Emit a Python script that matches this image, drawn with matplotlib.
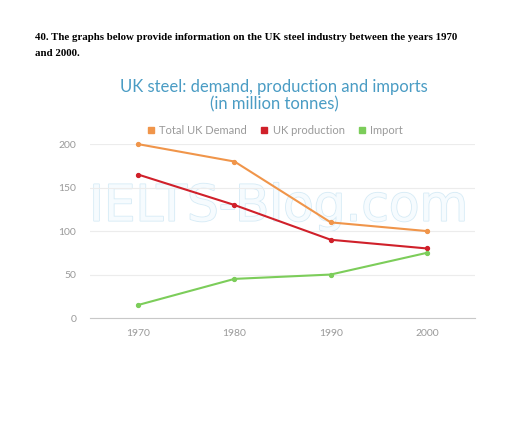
import matplotlib.pyplot as plt
import matplotlib.patheffects as pe

# data
years = [1970, 1980, 1990, 2000]
demand = [200, 180, 110, 100]
production = [165, 130, 90, 80]
imports = [15, 45, 50, 75]
series_names = ['Total UK Demand', 'UK production', 'Import']
y_ticks = [0, 50, 100, 150, 200]

col_demand = '#f0954a'
col_prod = '#d0202a'
col_imp = '#7ccd5a'
col_title = '#4a9cc4'
col_tick = '#9a9a9a'

fig = plt.figure(figsize=(5.12, 4.24), dpi=100)
ax = fig.add_axes([0.176, 0.25, 0.752, 0.41])

# header text (exam question)
fig.text(35 / 512, 1 - 38 / 424, '40. The graphs below provide information on the UK steel industry between the years 1970',
         family='Liberation Serif', fontweight='bold', fontsize=7.8, va='center', ha='left')
fig.text(35 / 512, 1 - 53 / 424, 'and 2000.',
         family='Liberation Serif', fontweight='bold', fontsize=7.8, va='center', ha='left')

# chart title
fig.text(274 / 512, 1 - 87 / 424, 'UK steel: demand, production and imports',
         family='Lato', fontsize=12, color=col_title, ha='center', va='center')
fig.text(274 / 512, 1 - 104 / 424, '(in million tonnes)',
         family='Lato', fontsize=12, color=col_title, ha='center', va='center')

ax.grid(axis='y', color='#ececec', linewidth=0.8, zorder=0)

# watermark behind the lines
ax.text(0.49, 0.64, 'IELTS-Blog.com', transform=ax.transAxes, fontsize=36,
        family='DejaVu Sans', color='#f6fbfe', ha='center', va='center', zorder=1,
        path_effects=[pe.withStroke(linewidth=1.2, foreground='#d6ebf6')])

for vals, c, name in zip([demand, production, imports], [col_demand, col_prod, col_imp], series_names):
    ax.plot(years, vals, color=c, linewidth=1.5, marker='o', markersize=2.8,
            label=name, clip_on=False, zorder=3)

ax.set_xlim(1965, 2005)
ax.set_ylim(0, 200)
ax.set_xticks(years)
ax.set_yticks(y_ticks)
ax.tick_params(axis='both', length=0, colors=col_tick, labelsize=7.5)
ax.tick_params(axis='x', pad=8)
ax.tick_params(axis='y', pad=10)
for lbl in ax.get_xticklabels() + ax.get_yticklabels():
    lbl.set_family('Lato')

for s in ['top', 'right', 'left']:
    ax.spines[s].set_visible(False)
ax.spines['bottom'].set_color('#c8c8c8')
ax.spines['bottom'].set_linewidth(0.8)

# legend with square markers
handles = [plt.Line2D([], [], color=c, marker='s', linestyle='none', markersize=4)
           for c in [col_demand, col_prod, col_imp]]
fig.legend(handles, series_names, loc='center', bbox_to_anchor=(275 / 512, 1 - 130 / 424),
           ncol=3, frameon=False, handlelength=0.7, handletextpad=0.4, columnspacing=1.2,
           labelcolor='#9a9a9a', prop={'family': 'Lato', 'size': 8})

fig.savefig('out.png', dpi=100)
